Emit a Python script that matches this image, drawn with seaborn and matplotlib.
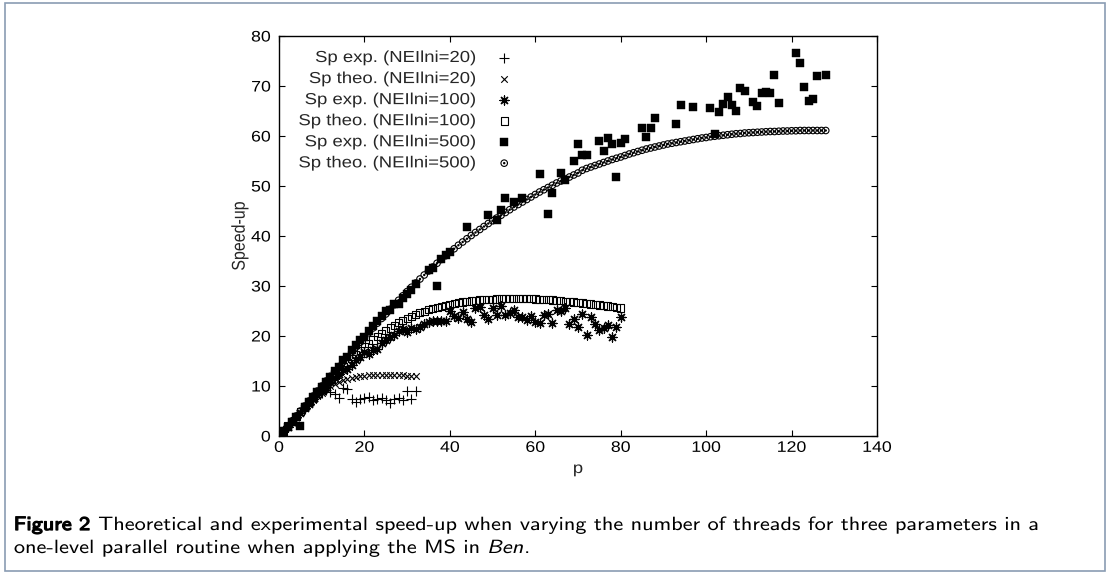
import matplotlib
matplotlib.use("Agg")
import numpy as np
import matplotlib.pyplot as plt
import seaborn as sns
from matplotlib.path import Path
from matplotlib import patheffects as pe
from matplotlib.transforms import Affine2D
from matplotlib.patches import Rectangle

# ---------------- data ----------------
labels = ["Sp exp. (NEIlni=20)", "Sp theo. (NEIlni=20)",
          "Sp exp. (NEIlni=100)", "Sp theo. (NEIlni=100)",
          "Sp exp. (NEIlni=500)", "Sp theo. (NEIlni=500)"]

p20 = list(range(1, 33))
exp20 = [0.95, 1.9, 2.8, 3.7, 4.6, 5.5, 6.3, 7.1, 7.9, 8.7,
         9.2, 8.9, 8.4, 7.7, 9.7, 9.5, 7.5, 6.9, 7.5, 7.7,
         7.9, 7.2, 7.5, 7.7, 7.3, 6.7, 7.5, 7.7, 7.2, 9.1,
         7.5, 9.1]
theo20 = [1.0, 1.95, 2.9, 3.85, 4.75, 5.6, 6.45, 7.25, 8.0, 8.7,
          9.35, 9.95, 10.45, 10.9, 11.25, 11.5, 11.7, 11.85, 12.0, 12.1,
          12.2, 12.25, 12.3, 12.3, 12.3, 12.3, 12.25, 12.2, 12.15, 12.1,
          12.05, 12.0]

p100 = list(range(1, 81))
exp100 = [1.0, 1.9, 2.9, 3.8, 4.7, 5.6, 6.5, 7.4, 8.3, 9.1,
          9.9, 10.8, 11.6, 12.4, 13.2, 13.5, 14.2, 15.3, 15.9, 16.8,
          16.5, 17.2, 17.5, 18.6, 19.2, 19.8, 20.3, 21.0, 21.5, 20.8,
          21.6, 21.5, 21.8, 22.4, 22.9, 23.0, 23.0, 23.1, 23.0, 25.0,
          24.0, 23.6, 24.9, 23.5, 22.8, 25.6, 25.8, 24.3, 23.5, 25.7,
          24.2, 26.0, 24.2, 24.7, 25.2, 23.9, 23.9, 23.2, 24.1, 22.8,
          22.7, 24.2, 24.5, 22.7, 25.2, 25.0, 25.7, 22.4, 23.5, 21.9,
          24.4, 20.3, 23.9, 22.4, 21.3, 21.7, 22.2, 19.9, 21.9, 23.8]
theo100 = [1.0, 2.0, 2.95, 3.9, 4.85, 5.8, 6.75, 7.7, 8.6, 9.5,
           10.4, 11.3, 12.15, 13.0, 13.85, 14.7, 15.5, 16.3, 17.05, 17.8,
           18.5, 19.2, 19.85, 20.45, 21.05, 21.6, 22.15, 22.65, 23.1, 23.55,
           23.95, 24.3, 24.65, 24.95, 25.25, 25.5, 25.75, 25.95, 26.15, 26.35,
           26.5, 26.65, 26.8, 26.9, 27.0, 27.1, 27.2, 27.25, 27.3, 27.35,
           27.4, 27.45, 27.45, 27.5, 27.5, 27.5, 27.5, 27.45, 27.45, 27.4,
           27.35, 27.3, 27.25, 27.2, 27.1, 27.05, 26.95, 26.9, 26.8, 26.7,
           26.6, 26.5, 26.4, 26.3, 26.2, 26.1, 26.0, 25.85, 25.75, 25.6]

p500_exp = [1, 2, 3, 4, 5, 6, 7, 8, 9, 10, 11, 12, 13, 14, 15, 16, 17, 18, 19, 20,
            21, 22, 23, 24, 25, 26, 27, 28, 29, 30, 31, 32, 35, 36, 37, 38, 39, 40,
            44, 49, 51, 52, 53, 55, 57, 61, 63, 64, 66, 67, 69, 70, 71, 72,
            75, 76, 77, 78, 79, 80, 81, 85, 86, 87, 88, 93, 94, 97,
            101, 102, 103, 104, 105, 106, 107, 108, 109, 111, 112, 113, 114, 115,
            116, 117, 121, 122, 123, 124, 125, 126, 128]
exp500 = [1.0, 1.9, 2.9, 3.9, 2.1, 5.9, 6.9, 7.9, 8.9, 9.9,
          10.9, 11.9, 13.0, 13.9, 15.3, 15.9, 17.3, 18.2, 19.2, 19.8,
          21.1, 22.0, 23.0, 24.0, 25.1, 25.3, 26.4, 26.5, 27.6, 28.5,
          29.2, 30.4, 33.3, 33.6, 30.1, 35.4, 36.2, 36.9,
          41.9, 44.2, 43.3, 45.2, 47.7, 46.8, 47.7, 52.5, 44.5, 48.7, 52.7, 51.3,
          55.1, 58.4, 56.2, 56.2, 59.1, 57.1, 59.7, 58.4, 51.9, 58.7, 59.4,
          61.7, 59.9, 61.7, 63.7, 62.4, 66.2, 65.9,
          65.7, 60.4, 64.9, 66.5, 67.9, 66.3, 65.1, 69.7, 69.1, 66.9, 66.0, 68.7,
          68.9, 68.7, 72.3, 66.7, 76.7, 74.7, 69.9, 67.1, 67.5, 72.1, 72.3]

p500_theo = list(range(1, 129))
theo500 = [1.0, 2.0, 3.0, 4.0, 5.0, 6.0, 7.0, 8.0, 9.0, 10.0,
           11.0, 11.95, 12.9, 13.9, 14.85, 15.85, 16.8, 17.8, 18.75, 19.7,
           20.65, 21.6, 22.55, 23.5, 24.4, 25.35, 26.25, 27.15, 28.05, 28.9,
           29.75, 30.6, 31.4, 32.2, 33.0, 33.8, 34.55, 35.3, 36.05, 36.75,
           37.45, 38.15, 38.8, 39.45, 40.1, 40.7, 41.3, 41.9, 42.5, 43.05,
           43.6, 44.15, 44.7, 45.25, 45.8, 46.3, 46.8, 47.3, 47.8, 48.3,
           48.8, 49.25, 49.7, 50.15, 50.6, 51.0, 51.4, 51.8, 52.2, 52.6,
           53.15, 53.5, 53.8, 54.1, 54.4, 54.7, 55.0, 55.3, 55.55, 55.8,
           56.1, 56.4, 56.65, 56.9, 57.15, 57.4, 57.6, 57.8, 58.0, 58.2,
           58.4, 58.55, 58.7, 58.85, 59.0, 59.15, 59.3, 59.45, 59.6, 59.7,
           59.85, 59.95, 60.05, 60.15, 60.25, 60.35, 60.45, 60.5, 60.6, 60.65,
           60.7, 60.75, 60.8, 60.85, 60.9, 60.9, 60.95, 61.0, 61.0, 61.05,
           61.05, 61.1, 61.1, 61.1, 61.1, 61.1, 61.1, 61.1]

x_ticks = [0, 20, 40, 60, 80, 100, 120, 140]
y_ticks = [0, 10, 20, 30, 40, 50, 60, 70, 80]

caption_bold = "Figure 2"
caption_line1 = "Theoretical and experimental speed-up when varying the number of threads for three parameters in a"
caption_line2a = "one-level parallel routine when applying the MS in "
caption_line2b = "Ben"
caption_line2c = "."


# ---------------- text glyph styling ----------------
class GlyphStyle(pe.AbstractPathEffect):
    """Screen-space horizontal stretch about an anchor, optional slant / emboldening."""

    def __init__(self, sx=1.0, anchor="left", shear=0.0, stroke=0.0):
        super().__init__()
        self.sx, self.anchor, self.shear, self.stroke = sx, anchor, shear, stroke

    def draw_path(self, renderer, gc, tpath, affine, rgbFace=None):
        full = Affine2D().skew(self.shear, 0) + affine
        ext = tpath.get_extents(full)
        if np.all(np.isfinite([ext.x0, ext.x1])):
            xa = {"left": ext.x0, "center": 0.5 * (ext.x0 + ext.x1),
                  "right": ext.x1}[self.anchor]
            full = full + Affine2D().translate(-xa, 0).scale(self.sx, 1).translate(xa, 0)
        if self.stroke > 0:
            gc0 = renderer.new_gc()
            gc0.copy_properties(gc)
            gc0.set_linewidth(self.stroke)
            gc0.set_foreground(rgbFace)
            renderer.draw_path(gc0, tpath, full, rgbFace)
            gc0.restore()
        else:
            renderer.draw_path(gc, tpath, full, rgbFace)


SX = 1.16

# ---------------- style ----------------
sns.set_style("ticks")
plt.rcParams["font.family"] = ["Liberation Sans", "DejaVu Sans"]

W, H = 1111, 574
fig = plt.figure(figsize=(W / 100, H / 100), dpi=100)
L, R, T, B = 279, 877, 36, 436
ax = fig.add_axes([L / W, 1 - B / H, (R - L) / W, (B - T) / H])

# gnuplot-like circle (ring with a tiny centre ring)
circ = Path.unit_circle()
circ_marker = Path.make_compound_path(circ, Path(circ.vertices * 0.2, circ.codes))

k = "black"
sns.scatterplot(x=p20, y=exp20, ax=ax, marker="+", s=42, color=k, linewidth=0.8,
                label=labels[0], legend=False, zorder=3)
sns.scatterplot(x=p20, y=theo20, ax=ax, marker="x", s=22, color=k, linewidth=0.8,
                label=labels[1], legend=False, zorder=3)
sns.scatterplot(x=p100, y=exp100, ax=ax, marker=(8, 2, 0), s=42, color=k, linewidth=0.9,
                label=labels[2], legend=False, zorder=3)
sns.scatterplot(x=p100, y=theo100, ax=ax, marker="s", s=26, facecolor="none",
                edgecolor=k, linewidth=0.8, label=labels[3], legend=False, zorder=3)
sns.scatterplot(x=p500_exp, y=exp500, ax=ax, marker="s", s=30, color=k, edgecolor=k,
                linewidth=0.3, label=labels[4], legend=False, zorder=3)
sns.scatterplot(x=p500_theo, y=theo500, ax=ax, marker=circ_marker, s=22, facecolor="none",
                edgecolor=k, linewidth=0.8, label=labels[5], legend=False, zorder=3)

ax.set_xlim(0, 140)
ax.set_ylim(0, 80)
ax.set_xticks(x_ticks)
ax.set_yticks(y_ticks)
ax.tick_params(direction="in", length=4, width=0.8, top=True, right=True,
               labelsize=11, colors=k)
ax.tick_params(axis="x", pad=3.5)
ax.tick_params(axis="y", pad=6)
for s in ax.spines.values():
    s.set_linewidth(1.0)
    s.set_color(k)
for t in ax.xaxis.get_major_ticks():
    t.label1.set_path_effects([GlyphStyle(SX, "center")])
for t in ax.yaxis.get_major_ticks():
    t.label1.set_path_effects([GlyphStyle(SX, "right")])

ax.set_xlabel("p", fontsize=11.5)
ax.set_ylabel("Speed-up", fontsize=11.5)
ax.xaxis.label.set_path_effects([GlyphStyle(SX, "center")])
ax.yaxis.label.set_path_effects([GlyphStyle(SX, "center")])
ax.xaxis.set_label_coords(0.5, -(461 - B) / (B - T), transform=ax.transAxes)
ax.yaxis.set_label_coords(-(L - 247) / (R - L), 0.5, transform=ax.transAxes)

leg = ax.legend(loc="upper right", bbox_to_anchor=(513 / W, 1 - 50 / H),
                bbox_transform=fig.transFigure, frameon=False, markerfirst=False,
                fontsize=11.5, handlelength=1.1, handletextpad=1.2, borderpad=0,
                borderaxespad=0, labelspacing=0.38, scatterpoints=1)
for t in leg.get_texts():
    t.set_path_effects([GlyphStyle(SX, "right")])

# ---------------- caption ----------------
cap_fs = 13.8
cap_font = "cmss10"
renderer = fig.canvas.get_renderer()
x0 = 14
yb1 = 1 - 530 / H
yb2 = 1 - 553 / H


def put(x_px, yb, s, **eff):
    t = fig.text(x_px / W, yb, s, fontfamily=cap_font, fontsize=cap_fs, va="baseline",
                 ha="left", color=k, path_effects=[GlyphStyle(SX, "left", **eff)])
    bb = t.get_window_extent(renderer)
    return x_px + bb.width * SX


xe = put(x0, yb1, caption_bold, stroke=0.9)
put(xe + 8, yb1, caption_line1)
xe = put(x0, yb2, caption_line2a)
xe = put(xe, yb2, caption_line2b, shear=0.21)
put(xe + 1, yb2, caption_line2c)

# outer frame
fig.patches.append(Rectangle((5 / W, 3 / H), (1105 - 5) / W, (571 - 3) / H,
                             transform=fig.transFigure, fill=False,
                             edgecolor="#8a9cb3", linewidth=1.2))

fig.savefig("out.png", dpi=100)
